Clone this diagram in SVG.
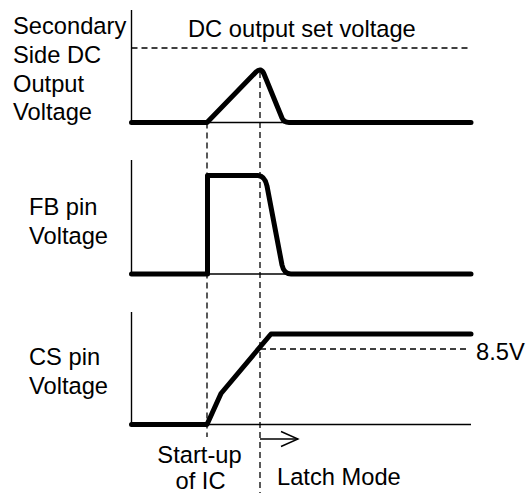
<svg xmlns="http://www.w3.org/2000/svg" width="532" height="493" viewBox="0 0 532 493">
<style>
text{font-family:"Liberation Sans",Arial,sans-serif;font-size:23.7px;fill:#000}
.axis{stroke:#000;stroke-width:1.4;fill:none}
.thin{stroke:#000;stroke-width:1.4;fill:none}
.thick{stroke:#000;stroke-width:5;fill:none;stroke-linecap:round;stroke-linejoin:round}
.dash{stroke:#000;stroke-width:1.3;fill:none;stroke-dasharray:6 4}
</style>
<rect width="532" height="493" fill="#fff"/>
<g id="panel-output">
<text x="13" y="34">Secondary</text>
<text x="13" y="63">Side DC</text>
<text x="13" y="91.5">Output</text>
<text x="13" y="120">Voltage</text>
<text x="188" y="37">DC output set voltage</text>
<line class="axis" x1="131.5" y1="10" x2="131.5" y2="122.5"/>
<line class="dash" x1="131.5" y1="48" x2="471" y2="48"/>
<line class="thin" x1="207" y1="122.5" x2="288" y2="122.5"/>
<path class="thick" d="M131.5,122.5 L207,122.5 L256,72 Q261,67 264,74 L282,118 Q284,122.5 289,122.5 L471,122.5"/>
</g>
<g id="panel-fb">
<text x="29" y="215">FB pin</text>
<text x="29" y="243.5">Voltage</text>
<line class="axis" x1="131.5" y1="160" x2="131.5" y2="274"/>
<line class="thin" x1="207.5" y1="274" x2="290" y2="274"/>
<path class="thick" d="M131.5,274 L207.5,274 L207.5,175.5 L258,175.5 Q265,176 267,186 L282,265 Q284,274 291,274 L471,274"/>
</g>
<g id="panel-cs">
<text x="29" y="365">CS pin</text>
<text x="29" y="393.5">Voltage</text>
<line class="axis" x1="131.5" y1="312" x2="131.5" y2="424.5"/>
<line class="thin" x1="207" y1="424.5" x2="471" y2="424.5"/>
<line class="dash" x1="260" y1="349" x2="468" y2="349"/>
<path class="thick" d="M131.5,424.5 L207,424.5 L221,393.5 L271,334 L471,334"/>
<text x="476" y="360">8.5V</text>
</g>
<g id="connectors">
<line class="dash" x1="207" y1="122.5" x2="207" y2="437"/>
<line class="dash" x1="260" y1="72" x2="260" y2="493"/>
<line class="thin" x1="260" y1="439" x2="298" y2="439"/>
<polyline class="thin" points="281,431.5 298,439 281,446.5"/>
</g>
<g id="annotations">
<text x="199.5" y="463" text-anchor="middle">Start-up</text>
<text x="200.5" y="488.5" text-anchor="middle">of IC</text>
<text x="277" y="485">Latch Mode</text>
</g>
</svg>
